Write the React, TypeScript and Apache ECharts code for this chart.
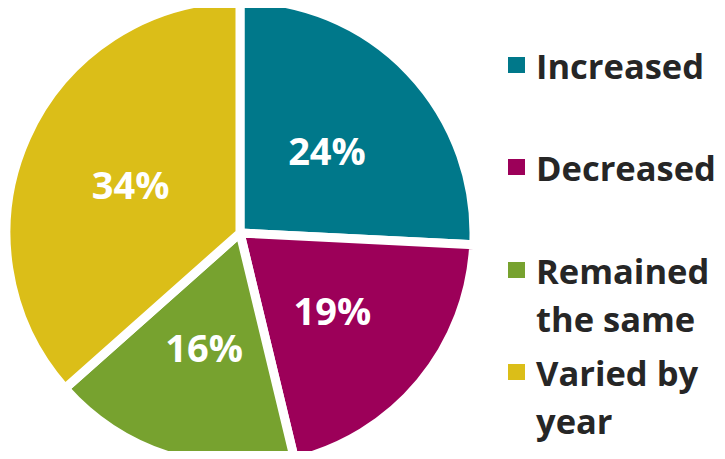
import React, { useEffect, useRef } from "react";
import * as echarts from "echarts";

const categories = ["Increased", "Decreased", "Remained the same", "Varied by year"];
const legendLabels = ["Increased", "Decreased", "\u00a0\nRemained\nthe same", "\u00a0\nVaried by\nyear"];
const values = [24, 19, 16, 34];
const colors = ["#00788A", "#9C0059", "#77A22F", "#DBBE18"];
const legendTops = [41, 143, 198, 300];

export default function App() {
  const ref = useRef<HTMLDivElement>(null);
  useEffect(() => {
    if (!ref.current) return;
    const chart = echarts.init(ref.current, undefined, { renderer: "svg" });
    const font = "'Open Sans', 'Noto Sans', sans-serif";
    const legends = categories.map((name, i) => ({
      orient: "vertical",
      left: 506,
      top: legendTops[i],
      padding: 0,
      selectedMode: false,
      icon: "rect",
      itemWidth: 19,
      itemHeight: 18,
      itemGap: 0,
      data: [name],
      formatter: () => legendLabels[i],
      textStyle: {
        fontFamily: font,
        fontWeight: "bold",
        fontSize: 34.5,
        lineHeight: 48,
        color: "#262626",
        padding: [0, 0, 0, 5],
      },
    }));
    chart.setOption({
      animation: false,
      backgroundColor: "#ffffff",
      legend: legends,
      series: [
        {
          type: "pie",
          center: [240, 233],
          radius: 234,
          startAngle: 90,
          clockwise: true,
          data: categories.map((name, i) => ({
            name,
            value: values[i],
            itemStyle: { color: colors[i] },
          })),
          itemStyle: { borderColor: "#ffffff", borderWidth: 9 },
          label: {
            show: true,
            position: "inside",
            formatter: (p: any) => `${p.value}%`,
            color: "#ffffff",
            fontFamily: font,
            fontWeight: "bold",
            fontSize: 38,
          },
          labelLine: { show: false },
          emphasis: { disabled: true },
        },
      ],
    });
    return () => chart.dispose();
  }, []);
  return <div ref={ref} style={{ width: 725, height: 459, margin: -8 }} />;
}
